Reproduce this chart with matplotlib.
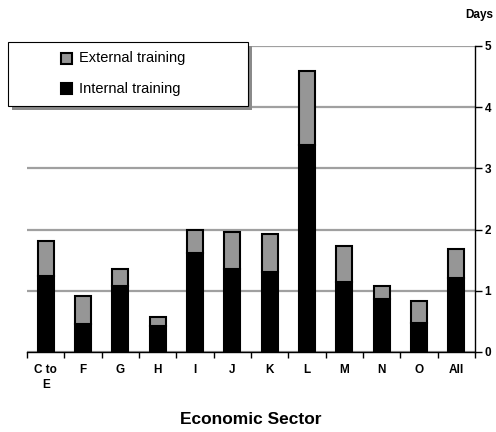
import matplotlib
matplotlib.use('Agg')
from matplotlib import pyplot as plt
from matplotlib.patches import Rectangle
import numpy as np

plt.rcParams['font.family'] = ['Liberation Sans', 'DejaVu Sans']

sectors = ['C to\nE', 'F', 'G', 'H', 'I', 'J', 'K', 'L', 'M', 'N', 'O', 'All']
internal = [1.24, 0.45, 1.08, 0.42, 1.61, 1.35, 1.31, 3.38, 1.15, 0.86, 0.48, 1.21]
external = [0.57, 0.46, 0.28, 0.15, 0.38, 0.61, 0.62, 1.21, 0.59, 0.22, 0.35, 0.48]
yticks = [0, 1, 2, 3, 4, 5]

W, H = 496, 432
fig = plt.figure(figsize=(W / 100, H / 100), dpi=100)
ax = fig.add_axes([27 / W, 1 - 352 / H, 448 / W, 306 / H])

x = np.arange(len(sectors))
ax.bar(x, internal, width=0.42, color='black', edgecolor='black', linewidth=1.5, zorder=3)
ax.bar(x, external, bottom=internal, width=0.42, color='#969696', edgecolor='black',
       linewidth=1.5, zorder=3)

ax.set_xlim(-0.5, len(sectors) - 0.5)
ax.set_ylim(0, 5)
ax.set_yticks(yticks)
ax.yaxis.tick_right()
ax.tick_params(axis='y', direction='out', length=5, width=1, pad=2, labelsize=8.5)
for lab in ax.get_yticklabels():
    lab.set_fontweight('bold')

ax.set_xticks(x)
ax.set_xticklabels(sectors, fontsize=8.5, fontweight='bold', va='top', linespacing=1.4)
ax.set_xticks(np.arange(len(sectors) + 1) - 0.5, minor=True)
ax.tick_params(axis='x', which='major', length=0, pad=8.5)
ax.tick_params(axis='x', which='minor', direction='out', length=4, width=1)

ax.grid(axis='y', color='#a0a0a0', linewidth=1.6, zorder=0)
ax.set_axisbelow(True)
for side in ['left', 'top']:
    ax.spines[side].set_visible(False)
ax.spines['right'].set_linewidth(1)
ax.spines['bottom'].set_linewidth(1)
ax.spines['bottom'].set_zorder(4)

fig.text(251 / W, 1 - 420 / H, 'Economic Sector', ha='center', va='center',
         fontsize=12.5, fontweight='bold')
fig.text(479 / W, 1 - 15 / H, 'Days', ha='center', va='center', fontsize=8.5, fontweight='bold')


# legend box drawn by hand, in pixel positions
def px_rect(x0, y0, w, h, **kw):
    return Rectangle((x0 / W, 1 - (y0 + h) / H), w / W, h / H, transform=fig.transFigure, **kw)


fig.patches.append(px_rect(12, 46, 240, 64, facecolor='#8a8a8a', edgecolor='none', zorder=5))
fig.patches.append(px_rect(8, 42, 240, 64, facecolor='white', edgecolor='black', linewidth=0.8, zorder=6))
fig.patches.append(px_rect(61, 53, 11, 11, facecolor='#969696', edgecolor='black', linewidth=1.5, zorder=7))
fig.patches.append(px_rect(61, 83, 11, 11, facecolor='black', edgecolor='black', linewidth=1.5, zorder=7))
fig.text(79 / W, 1 - 58 / H, 'External training', ha='left', va='center', fontsize=10.5, zorder=8)
fig.text(79 / W, 1 - 89 / H, 'Internal training', ha='left', va='center', fontsize=10.5, zorder=8)

plt.savefig('out.png', dpi=100)
